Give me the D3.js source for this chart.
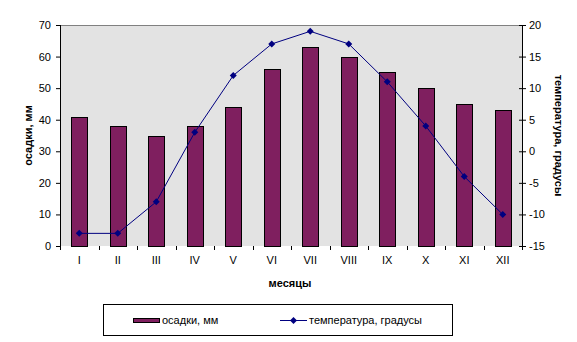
<!DOCTYPE html>
<html><head><meta charset="utf-8">
<script src="https://cdn.jsdelivr.net/npm/d3@7"></script>
<style>body{margin:0;background:#fff}svg{display:block;font-family:Arial,"Liberation Sans",sans-serif}</style>
</head><body><svg width="577" height="342"></svg>
<script>
const months = ["I","II","III","IV","V","VI","VII","VIII","IX","X","XI","XII"];
const precip = [41,38,35,38,44,56,63,60,55,50,45,43];
const temp = [-13,-13,-8,3,12,17,19,17,11,4,-4,-10];
const leftTicks = [0,10,20,30,40,50,60,70];
const rightTicks = [-15,-10,-5,0,5,10,15,20];
const labels = {left:"осадки, мм", right:"температура, градусы", x:"месяцы", bars:"осадки, мм", line:"температура, градусы"};

const svg = d3.select("svg");
const L=60,R=522,T=25,B=246;
const xb = d3.scaleBand().domain(months).range([L,R]);
const yl = d3.scaleLinear().domain([0,70]).range([B,T]);
const yr = d3.scaleLinear().domain([-15,20]).range([B,T]);

svg.append("rect").attr("x",L).attr("y",T).attr("width",R-L).attr("height",B-T).attr("fill","#e3e3e3");
svg.append("line").attr("x1",L).attr("x2",R).attr("y1",T+0.5).attr("y2",T+0.5).attr("stroke","#808080");

svg.selectAll(".bar").data(precip).enter().append("rect")
 .attr("x",(d,i)=>Math.round(xb(months[i])+xb.bandwidth()/2-8)+0.5)
 .attr("y",d=>Math.round(yl(d))+0.5).attr("width",16)
 .attr("height",d=>B-Math.round(yl(d)))
 .attr("fill","#7f1f5f").attr("stroke","#000").attr("stroke-width",1);

const fs="11px";
const la = svg.append("g").attr("transform",`translate(${L},0)`)
 .call(d3.axisLeft(yl).tickValues(leftTicks).tickSize(4).tickPadding(5).tickFormat(d3.format("d")));
const ra = svg.append("g").attr("transform",`translate(${R},0)`)
 .call(d3.axisRight(yr).tickValues(rightTicks).tickSize(4).tickPadding(3).tickFormat(d=>d<0?"-"+Math.abs(d):d));
ra.selectAll(".tick line").attr("x1",-3);
const xa = svg.append("g").attr("transform",`translate(0,${B})`)
 .call(d3.axisBottom(xb).tickSize(0).tickPadding(10));
xa.selectAll(".tick line").remove();
svg.append("g").selectAll("line").data(months.concat(["end"])).enter().append("line")
 .attr("x1",(d,i)=>Math.round(L+i*xb.bandwidth())+0.5).attr("x2",(d,i)=>Math.round(L+i*xb.bandwidth())+0.5)
 .attr("y1",B).attr("y2",B+4).attr("stroke","#000");

[la,ra,xa].forEach(g=>{g.selectAll("path.domain").attr("stroke","#000");
 g.selectAll("text").attr("font-size",fs).attr("fill","#000").attr("font-family","Arial, 'Liberation Sans', sans-serif");
 g.selectAll(".tick line").attr("stroke","#000");});
la.select("path.domain").attr("d",`M0.5,${T}V${B}`);
ra.select("path.domain").attr("d",`M0.5,${T}V${B}`);
xa.select("path.domain").attr("d",`M${L},${B+0.5}H${R}`);

const line = d3.line().x((d,i)=>xb(months[i])+xb.bandwidth()/2).y(d=>yr(d));
svg.append("path").datum(temp).attr("d",line).attr("fill","none").attr("stroke","#000080").attr("stroke-width",1);
const diamond = "M0,-3.5L3.5,0L0,3.5L-3.5,0Z";
svg.selectAll(".pt").data(temp).enter().append("path")
 .attr("transform",(d,i)=>`translate(${xb(months[i])+xb.bandwidth()/2},${yr(d)})`)
 .attr("d",diamond).attr("fill","#000080");

svg.append("text").attr("transform",`translate(32,${(T+B)/2}) rotate(-90)`).attr("text-anchor","middle")
 .attr("font-size","11px").attr("font-weight","bold").text(labels.left);
svg.append("text").attr("transform",`translate(555,${(T+B)/2}) rotate(90)`).attr("text-anchor","middle")
 .attr("font-size","11px").attr("font-weight","bold").text(labels.right);
svg.append("text").attr("x",290).attr("y",287).attr("text-anchor","middle")
 .attr("font-size","11px").attr("font-weight","bold").text(labels.x);

const lg = svg.append("g");
lg.append("rect").attr("x",103.5).attr("y",304.5).attr("width",349).attr("height",31).attr("fill","#fff").attr("stroke","#000");
lg.append("rect").attr("x",133.5).attr("y",318.5).attr("width",26).attr("height",4).attr("fill","#7f1f5f").attr("stroke","#000");
lg.append("text").attr("x",162).attr("y",324).attr("font-size","11px").text(labels.bars);
lg.append("line").attr("x1",280).attr("x2",307).attr("y1",320.5).attr("y2",320.5).attr("stroke","#000080");
lg.append("path").attr("transform","translate(293.5,320.5)").attr("d",diamond).attr("fill","#000080");
lg.append("text").attr("x",309).attr("y",324).attr("font-size","11px").text(labels.line);
</script></body></html>
